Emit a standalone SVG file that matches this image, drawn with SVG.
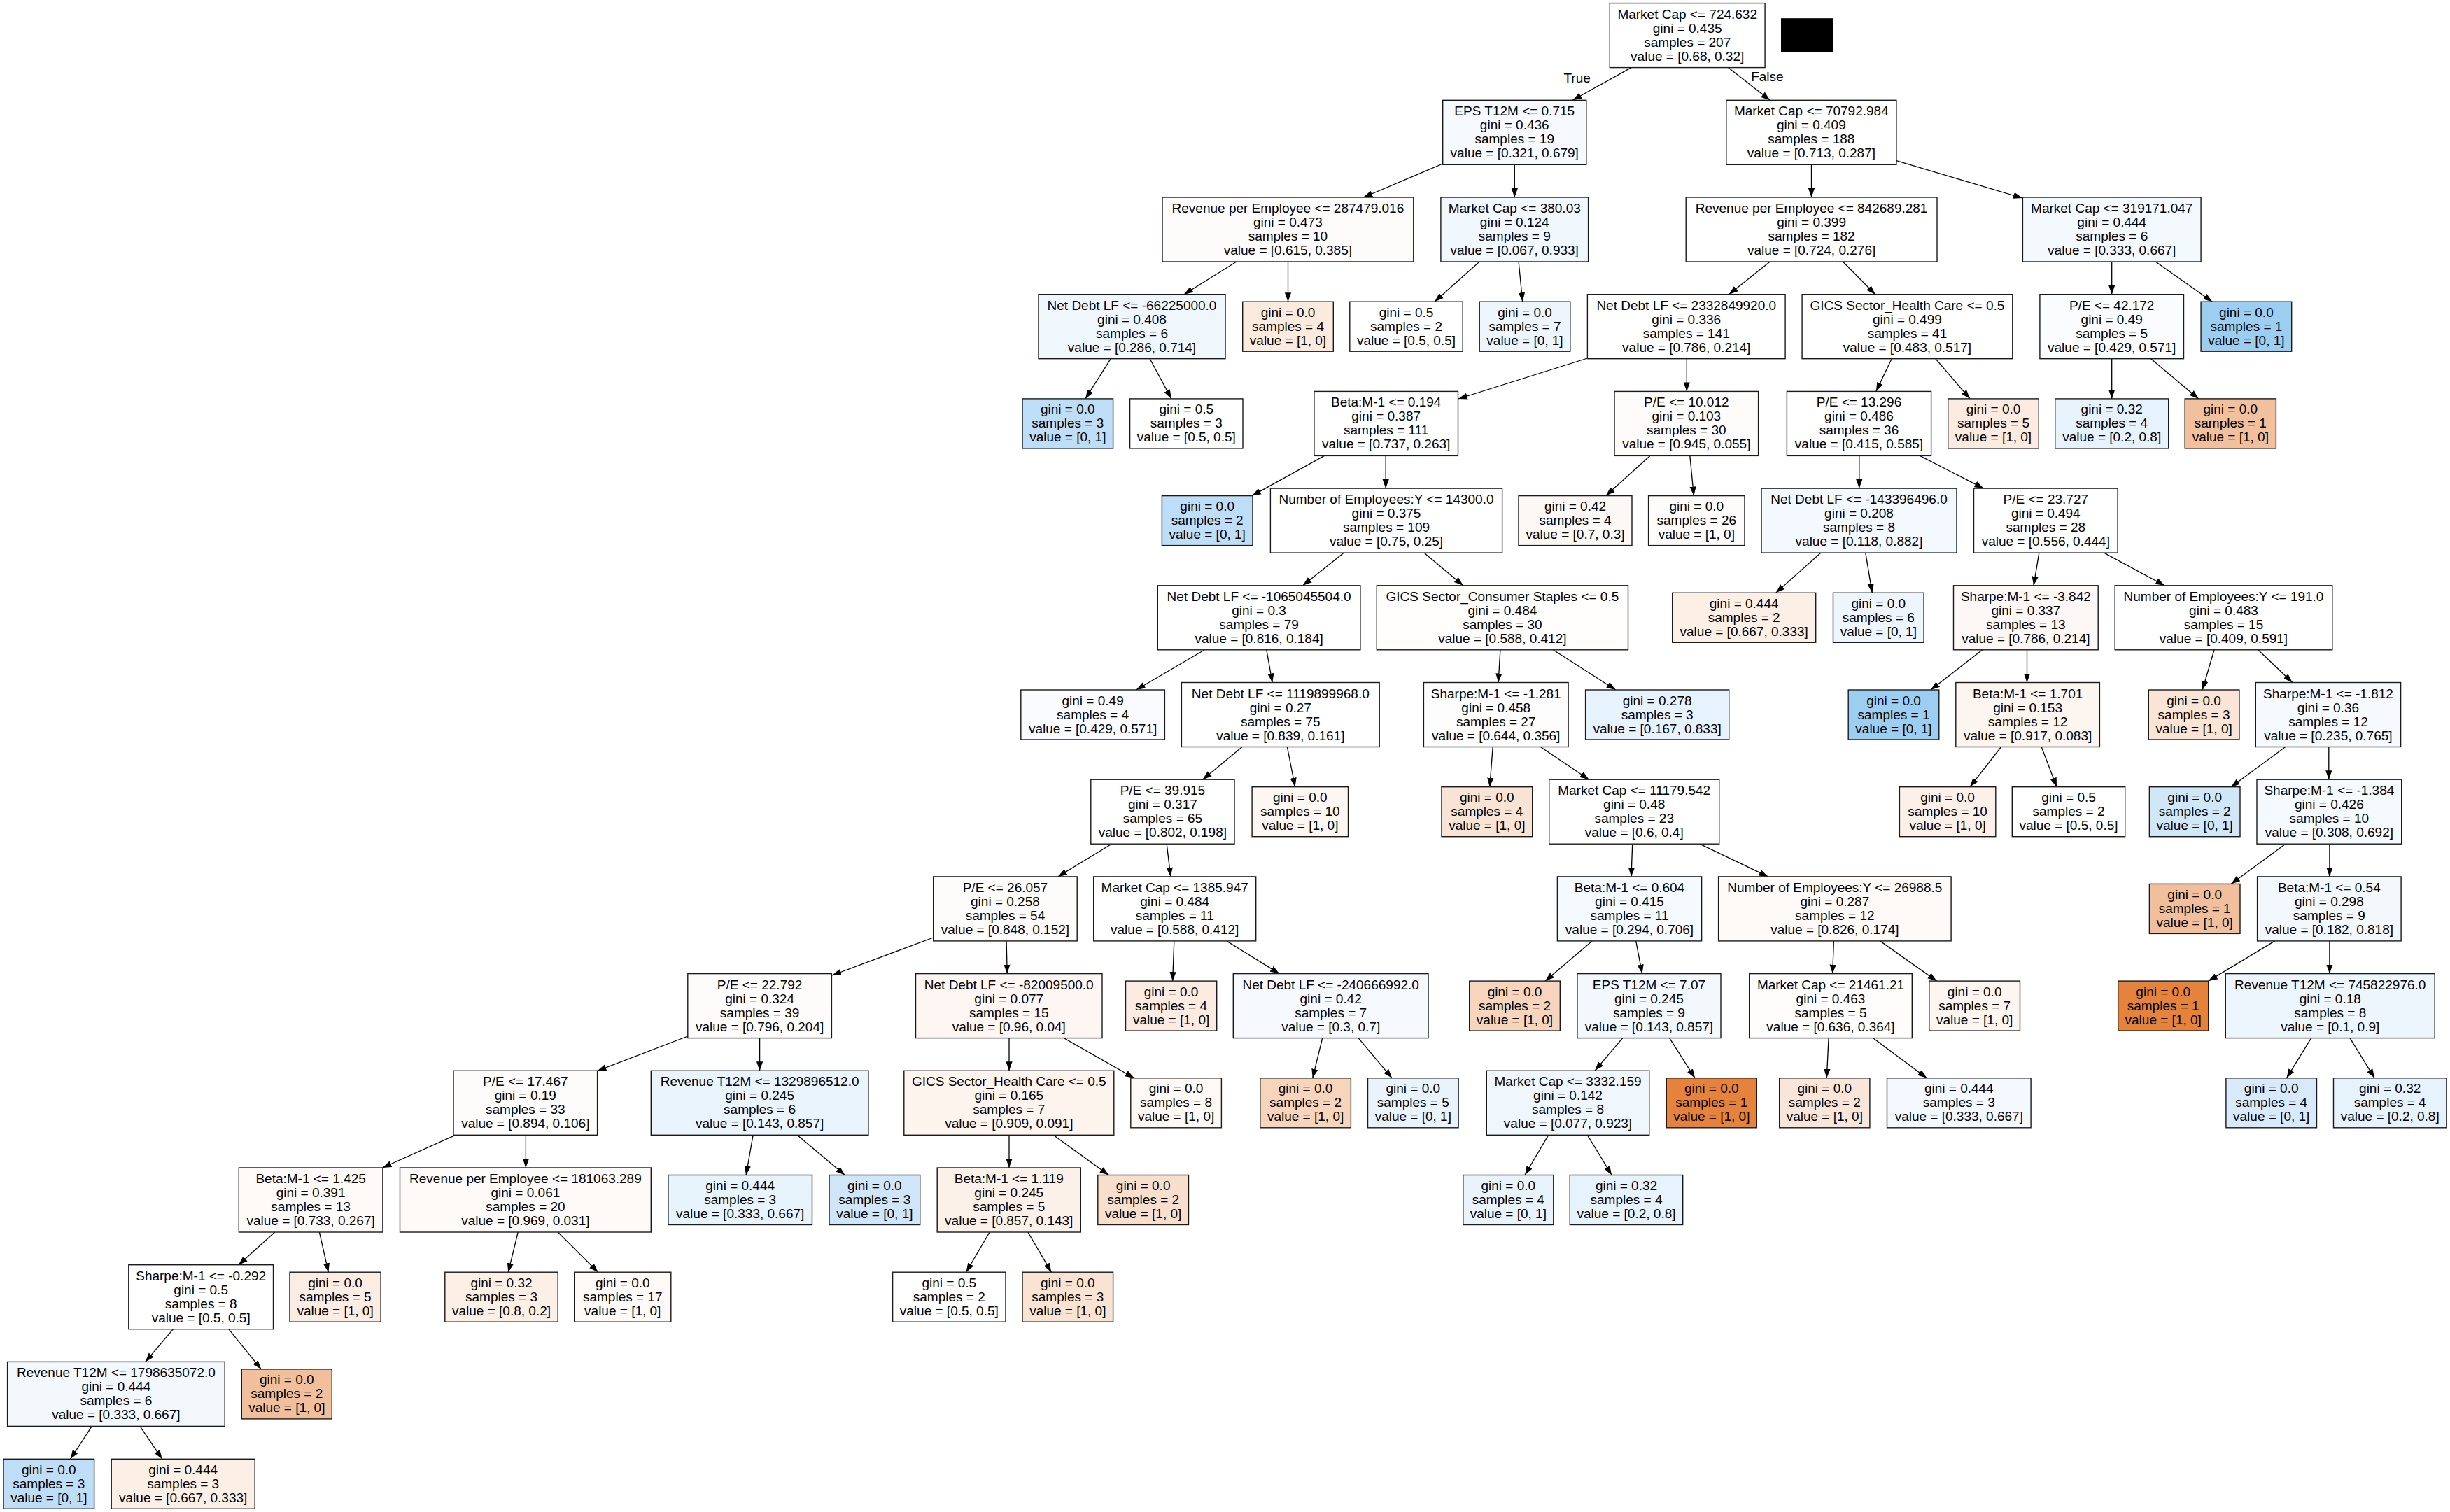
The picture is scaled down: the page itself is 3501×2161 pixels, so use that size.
<svg xmlns="http://www.w3.org/2000/svg" width="3501" height="2161" viewBox="0 0 3501 2161">
<defs>
<style>
rect.b{stroke:#1a1a1a;stroke-width:1.4}
text{font-family:"Liberation Sans",Arial,Helvetica,sans-serif;font-size:19px;fill:#000;text-anchor:middle}
#edges line{stroke:#000;stroke-width:1.3;fill:none;marker-end:url(#ah)}
</style>
<marker id="ah" markerUnits="userSpaceOnUse" markerWidth="14" markerHeight="10" refX="13" refY="5" orient="auto"><path d="M0,0.4 L13,5 L0,9.6 z" fill="#000"/></marker>
</defs>
<rect x="0" y="0" width="3501" height="2161" fill="#ffffff"/>
<g id="edges">
<line x1="2331" y1="96.6" x2="2247.2" y2="143.3"/>
<line x1="2469.5" y1="96.6" x2="2529.3" y2="143.3"/>
<line x1="2061.7" y1="234" x2="1948.3" y2="282"/>
<line x1="2164.3" y1="235.3" x2="2164.3" y2="282"/>
<line x1="2588.5" y1="235.3" x2="2588.5" y2="282"/>
<line x1="2709.9" y1="229.6" x2="2890" y2="283"/>
<line x1="1767" y1="374" x2="1692" y2="420.7"/>
<line x1="1840.5" y1="374" x2="1840.5" y2="431.2"/>
<line x1="2114.2" y1="374" x2="2050" y2="431.2"/>
<line x1="2170.1" y1="374" x2="2175.7" y2="431.2"/>
<line x1="2529.3" y1="374" x2="2470.7" y2="420.7"/>
<line x1="2633.4" y1="374" x2="2679.7" y2="420.7"/>
<line x1="3017.7" y1="374" x2="3017.7" y2="420.7"/>
<line x1="3080.3" y1="374" x2="3161.3" y2="431.2"/>
<line x1="1587.3" y1="512.7" x2="1551" y2="569.9"/>
<line x1="1643.1" y1="512.7" x2="1673.9" y2="569.9"/>
<line x1="2268.4" y1="512" x2="2084" y2="570"/>
<line x1="2410.3" y1="512.7" x2="2410.3" y2="559.4"/>
<line x1="2703.2" y1="512.7" x2="2680.9" y2="559.4"/>
<line x1="2765.8" y1="512.7" x2="2815" y2="569.9"/>
<line x1="3017.7" y1="512.7" x2="3017.7" y2="569.9"/>
<line x1="3073.6" y1="512.7" x2="3141.8" y2="569.9"/>
<line x1="1892.5" y1="651.4" x2="1789" y2="708.6"/>
<line x1="1980.2" y1="651.4" x2="1980.2" y2="698.1"/>
<line x1="2357.8" y1="651.4" x2="2294.7" y2="708.6"/>
<line x1="2414.8" y1="651.4" x2="2420.4" y2="708.6"/>
<line x1="2656.8" y1="651.4" x2="2656.8" y2="698.1"/>
<line x1="2743.4" y1="651.4" x2="2834.5" y2="698.1"/>
<line x1="1920.4" y1="790.1" x2="1861.7" y2="836.8"/>
<line x1="2034.9" y1="790.1" x2="2090.8" y2="836.8"/>
<line x1="2602" y1="790.1" x2="2537.7" y2="847.3"/>
<line x1="2665.8" y1="790.1" x2="2675.3" y2="847.3"/>
<line x1="2913.8" y1="790.1" x2="2906" y2="836.8"/>
<line x1="3006.6" y1="790.1" x2="3093.2" y2="836.8"/>
<line x1="1721.4" y1="928.8" x2="1623.6" y2="986"/>
<line x1="1809.8" y1="928.8" x2="1818.2" y2="975.5"/>
<line x1="2143.9" y1="928.8" x2="2141.1" y2="975.5"/>
<line x1="2219.3" y1="928.8" x2="2308.7" y2="986"/>
<line x1="2832.8" y1="928.8" x2="2759" y2="986"/>
<line x1="2896.5" y1="928.8" x2="2896.5" y2="975.5"/>
<line x1="3164.1" y1="928.8" x2="3147.3" y2="986"/>
<line x1="3226.7" y1="928.8" x2="3275.8" y2="975.5"/>
<line x1="1775" y1="1067.5" x2="1718.6" y2="1114.2"/>
<line x1="1839.4" y1="1067.5" x2="1850.6" y2="1124.7"/>
<line x1="2133.2" y1="1067.5" x2="2128.8" y2="1124.7"/>
<line x1="2201.4" y1="1067.5" x2="2270.7" y2="1114.2"/>
<line x1="2859.6" y1="1067.5" x2="2815" y2="1124.7"/>
<line x1="2917.2" y1="1067.5" x2="2939" y2="1124.7"/>
<line x1="3265.8" y1="1067.5" x2="3188.1" y2="1124.7"/>
<line x1="3327.8" y1="1067.5" x2="3327.8" y2="1114.2"/>
<line x1="1588.4" y1="1206.2" x2="1511.9" y2="1252.9"/>
<line x1="1667.2" y1="1206.2" x2="1672.8" y2="1252.9"/>
<line x1="2332.7" y1="1206.2" x2="2331" y2="1252.9"/>
<line x1="2428.8" y1="1206.2" x2="2526.5" y2="1252.9"/>
<line x1="3265.8" y1="1206.2" x2="3188.1" y2="1263.4"/>
<line x1="3328.9" y1="1206.2" x2="3328.9" y2="1252.9"/>
<line x1="1333.7" y1="1340" x2="1189" y2="1394"/>
<line x1="1438.1" y1="1344.9" x2="1439.2" y2="1391.6"/>
<line x1="1677.8" y1="1344.9" x2="1675.6" y2="1402.1"/>
<line x1="1752.8" y1="1344.9" x2="1828.2" y2="1391.6"/>
<line x1="2275.1" y1="1344.9" x2="2208.1" y2="1402.1"/>
<line x1="2337.7" y1="1344.9" x2="2346.6" y2="1391.6"/>
<line x1="2620.4" y1="1344.9" x2="2618.7" y2="1391.6"/>
<line x1="2686.5" y1="1344.9" x2="2767.5" y2="1402.1"/>
<line x1="3250.7" y1="1344.9" x2="3155.7" y2="1402.1"/>
<line x1="3328.9" y1="1344.9" x2="3328.9" y2="1391.6"/>
<line x1="982.8" y1="1481" x2="853.5" y2="1530.5"/>
<line x1="1085.6" y1="1483.6" x2="1085.6" y2="1530.3"/>
<line x1="1442" y1="1483.6" x2="1442" y2="1530.3"/>
<line x1="1520.3" y1="1483.6" x2="1620.8" y2="1540.8"/>
<line x1="1889.7" y1="1483.6" x2="1875.7" y2="1540.8"/>
<line x1="1941.1" y1="1483.6" x2="1989.1" y2="1540.8"/>
<line x1="2318.7" y1="1483.6" x2="2279" y2="1530.3"/>
<line x1="2385.7" y1="1483.6" x2="2422" y2="1540.8"/>
<line x1="2613.1" y1="1483.6" x2="2610.3" y2="1540.8"/>
<line x1="2676.4" y1="1483.6" x2="2753.5" y2="1540.8"/>
<line x1="3302.7" y1="1483.6" x2="3267.5" y2="1540.8"/>
<line x1="3358" y1="1483.6" x2="3393.2" y2="1540.8"/>
<line x1="650.8" y1="1622.3" x2="546.6" y2="1669"/>
<line x1="751.4" y1="1622.3" x2="751.4" y2="1669"/>
<line x1="1076.1" y1="1622.3" x2="1066.1" y2="1679.5"/>
<line x1="1139.2" y1="1622.3" x2="1207.4" y2="1679.5"/>
<line x1="1442" y1="1622.3" x2="1442" y2="1669"/>
<line x1="1505.2" y1="1622.3" x2="1584.5" y2="1679.5"/>
<line x1="2212.6" y1="1622.3" x2="2179" y2="1679.5"/>
<line x1="2268.4" y1="1622.3" x2="2303.1" y2="1679.5"/>
<line x1="392.7" y1="1761" x2="340.8" y2="1807.7"/>
<line x1="456.4" y1="1761" x2="469.3" y2="1818.2"/>
<line x1="740.2" y1="1761" x2="726.3" y2="1818.2"/>
<line x1="797.2" y1="1761" x2="854.7" y2="1818.2"/>
<line x1="1414.1" y1="1761" x2="1380.6" y2="1818.2"/>
<line x1="1468.9" y1="1761" x2="1502.4" y2="1818.2"/>
<line x1="247.5" y1="1899.7" x2="207.8" y2="1946.4"/>
<line x1="326.8" y1="1899.7" x2="373.2" y2="1956.9"/>
<line x1="131.3" y1="2038.4" x2="100.6" y2="2085.3"/>
<line x1="200" y1="2038.4" x2="231.8" y2="2085.3"/>
</g>
<g id="edge-labels">
<text x="2253.6" y="118">True</text>
<text x="2525.4" y="115.7">False</text>
</g>
<rect id="redaction" x="2545" y="26.2" width="74" height="48.6" fill="#000000"/>

<g id="n0"><rect class="b" x="2300.3" y="4.6" width="221.8" height="92" fill="#ffffff"/><text x="2411.2" y="26.6">Market Cap &lt;= 724.632<tspan x="2411.2" dy="20">gini = 0.435</tspan><tspan x="2411.2" dy="20">samples = 207</tspan><tspan x="2411.2" dy="20">value = [0.68, 0.32]</tspan></text></g>
<g id="n1"><rect class="b" x="2061.7" y="143.3" width="205.1" height="92" fill="#f6fafe"/><text x="2164.25" y="165.3">EPS T12M &lt;= 0.715<tspan x="2164.25" dy="20">gini = 0.436</tspan><tspan x="2164.25" dy="20">samples = 19</tspan><tspan x="2164.25" dy="20">value = [0.321, 0.679]</tspan></text></g>
<g id="n2"><rect class="b" x="2466.8" y="143.3" width="243.1" height="92" fill="#ffffff"/><text x="2588.35" y="165.3">Market Cap &lt;= 70792.984<tspan x="2588.35" dy="20">gini = 0.409</tspan><tspan x="2588.35" dy="20">samples = 188</tspan><tspan x="2588.35" dy="20">value = [0.713, 0.287]</tspan></text></g>
<g id="n3"><rect class="b" x="1661" y="282" width="358.8" height="92" fill="#fefcfb"/><text x="1840.4" y="304">Revenue per Employee &lt;= 287479.016<tspan x="1840.4" dy="20">gini = 0.473</tspan><tspan x="1840.4" dy="20">samples = 10</tspan><tspan x="1840.4" dy="20">value = [0.615, 0.385]</tspan></text></g>
<g id="n4"><rect class="b" x="2058.9" y="282" width="210.7" height="92" fill="#f0f7fd"/><text x="2164.25" y="304">Market Cap &lt;= 380.03<tspan x="2164.25" dy="20">gini = 0.124</tspan><tspan x="2164.25" dy="20">samples = 9</tspan><tspan x="2164.25" dy="20">value = [0.067, 0.933]</tspan></text></g>
<g id="n5"><rect class="b" x="2409.2" y="282" width="358.8" height="92" fill="#ffffff"/><text x="2588.6" y="304">Revenue per Employee &lt;= 842689.281<tspan x="2588.6" dy="20">gini = 0.399</tspan><tspan x="2588.6" dy="20">samples = 182</tspan><tspan x="2588.6" dy="20">value = [0.724, 0.276]</tspan></text></g>
<g id="n6"><rect class="b" x="2890.4" y="282" width="254.7" height="92" fill="#f4f9fe"/><text x="3017.75" y="304">Market Cap &lt;= 319171.047<tspan x="3017.75" dy="20">gini = 0.444</tspan><tspan x="3017.75" dy="20">samples = 6</tspan><tspan x="3017.75" dy="20">value = [0.333, 0.667]</tspan></text></g>

<g id="n7"><rect class="b" x="1484" y="420.7" width="267" height="92" fill="#f0f7fc"/><text x="1617.5" y="442.7">Net Debt LF &lt;= -66225000.0<tspan x="1617.5" dy="20">gini = 0.408</tspan><tspan x="1617.5" dy="20">samples = 6</tspan><tspan x="1617.5" dy="20">value = [0.286, 0.714]</tspan></text></g>
<g id="n8"><rect class="b" x="1775.7" y="431.2" width="129.6" height="71" fill="#fbeade"/><text x="1840.5" y="452.7">gini = 0.0<tspan x="1840.5" dy="20">samples = 4</tspan><tspan x="1840.5" dy="20">value = [1, 0]</tspan></text></g>
<g id="n9"><rect class="b" x="1928.8" y="431.2" width="161.4" height="71" fill="#ffffff"/><text x="2009.5" y="452.7">gini = 0.5<tspan x="2009.5" dy="20">samples = 2</tspan><tspan x="2009.5" dy="20">value = [0.5, 0.5]</tspan></text></g>
<g id="n10"><rect class="b" x="2114.2" y="431.2" width="129.6" height="71" fill="#eef6fd"/><text x="2179" y="452.7">gini = 0.0<tspan x="2179" dy="20">samples = 7</tspan><tspan x="2179" dy="20">value = [0, 1]</tspan></text></g>
<g id="n11"><rect class="b" x="2268.4" y="420.7" width="282.7" height="92" fill="#ffffff"/><text x="2409.75" y="442.7">Net Debt LF &lt;= 2332849920.0<tspan x="2409.75" dy="20">gini = 0.336</tspan><tspan x="2409.75" dy="20">samples = 141</tspan><tspan x="2409.75" dy="20">value = [0.786, 0.214]</tspan></text></g>
<g id="n12"><rect class="b" x="2575.1" y="420.7" width="300.7" height="92" fill="#ffffff"/><text x="2725.45" y="442.7">GICS Sector_Health Care &lt;= 0.5<tspan x="2725.45" dy="20">gini = 0.499</tspan><tspan x="2725.45" dy="20">samples = 41</tspan><tspan x="2725.45" dy="20">value = [0.483, 0.517]</tspan></text></g>
<g id="n13"><rect class="b" x="2914.9" y="420.7" width="205.6" height="92" fill="#fafcfe"/><text x="3017.7" y="442.7">P/E &lt;= 42.172<tspan x="3017.7" dy="20">gini = 0.49</tspan><tspan x="3017.7" dy="20">samples = 5</tspan><tspan x="3017.7" dy="20">value = [0.429, 0.571]</tspan></text></g>
<g id="n14"><rect class="b" x="3145.1" y="431.2" width="129.6" height="71" fill="#9ccef2"/><text x="3209.9" y="452.7">gini = 0.0<tspan x="3209.9" dy="20">samples = 1</tspan><tspan x="3209.9" dy="20">value = [0, 1]</tspan></text></g>

<g id="n15"><rect class="b" x="1461" y="569.9" width="129.6" height="71" fill="#bddef6"/><text x="1525.8" y="591.4">gini = 0.0<tspan x="1525.8" dy="20">samples = 3</tspan><tspan x="1525.8" dy="20">value = [0, 1]</tspan></text></g>
<g id="n16"><rect class="b" x="1614.6" y="569.9" width="161.4" height="71" fill="#ffffff"/><text x="1695.3" y="591.4">gini = 0.5<tspan x="1695.3" dy="20">samples = 3</tspan><tspan x="1695.3" dy="20">value = [0.5, 0.5]</tspan></text></g>
<g id="n17"><rect class="b" x="1877.9" y="559.4" width="205.6" height="92" fill="#ffffff"/><text x="1980.7" y="581.4">Beta:M-1 &lt;= 0.194<tspan x="1980.7" dy="20">gini = 0.387</tspan><tspan x="1980.7" dy="20">samples = 111</tspan><tspan x="1980.7" dy="20">value = [0.737, 0.263]</tspan></text></g>
<g id="n18"><rect class="b" x="2307" y="559.4" width="205.6" height="92" fill="#fefcfb"/><text x="2409.8" y="581.4">P/E &lt;= 10.012<tspan x="2409.8" dy="20">gini = 0.103</tspan><tspan x="2409.8" dy="20">samples = 30</tspan><tspan x="2409.8" dy="20">value = [0.945, 0.055]</tspan></text></g>
<g id="n19"><rect class="b" x="2553.4" y="559.4" width="206.2" height="92" fill="#ffffff"/><text x="2656.5" y="581.4">P/E &lt;= 13.296<tspan x="2656.5" dy="20">gini = 0.486</tspan><tspan x="2656.5" dy="20">samples = 36</tspan><tspan x="2656.5" dy="20">value = [0.415, 0.585]</tspan></text></g>
<g id="n20"><rect class="b" x="2783.7" y="569.9" width="129.6" height="71" fill="#fcebe0"/><text x="2848.5" y="591.4">gini = 0.0<tspan x="2848.5" dy="20">samples = 5</tspan><tspan x="2848.5" dy="20">value = [1, 0]</tspan></text></g>
<g id="n21"><rect class="b" x="2936.7" y="569.9" width="162" height="71" fill="#e6f2fc"/><text x="3017.7" y="591.4">gini = 0.32<tspan x="3017.7" dy="20">samples = 4</tspan><tspan x="3017.7" dy="20">value = [0.2, 0.8]</tspan></text></g>
<g id="n22"><rect class="b" x="3122.2" y="569.9" width="130.2" height="71" fill="#f2c09c"/><text x="3187.3" y="591.4">gini = 0.0<tspan x="3187.3" dy="20">samples = 1</tspan><tspan x="3187.3" dy="20">value = [1, 0]</tspan></text></g>

<g id="n23"><rect class="b" x="1660.4" y="708.6" width="129.6" height="71" fill="#bddef6"/><text x="1725.2" y="730.1">gini = 0.0<tspan x="1725.2" dy="20">samples = 2</tspan><tspan x="1725.2" dy="20">value = [0, 1]</tspan></text></g>
<g id="n24"><rect class="b" x="1815.4" y="698.1" width="331.2" height="92" fill="#ffffff"/><text x="1981" y="720.1">Number of Employees:Y &lt;= 14300.0<tspan x="1981" dy="20">gini = 0.375</tspan><tspan x="1981" dy="20">samples = 109</tspan><tspan x="1981" dy="20">value = [0.75, 0.25]</tspan></text></g>
<g id="n25"><rect class="b" x="2170" y="708.6" width="162" height="71" fill="#fdf8f4"/><text x="2251" y="730.1">gini = 0.42<tspan x="2251" dy="20">samples = 4</tspan><tspan x="2251" dy="20">value = [0.7, 0.3]</tspan></text></g>
<g id="n26"><rect class="b" x="2355.6" y="708.6" width="137.4" height="71" fill="#fefcfb"/><text x="2424.3" y="730.1">gini = 0.0<tspan x="2424.3" dy="20">samples = 26</tspan><tspan x="2424.3" dy="20">value = [1, 0]</tspan></text></g>
<g id="n27"><rect class="b" x="2517" y="698.1" width="279" height="92" fill="#f3f9fe"/><text x="2656.5" y="720.1">Net Debt LF &lt;= -143396496.0<tspan x="2656.5" dy="20">gini = 0.208</tspan><tspan x="2656.5" dy="20">samples = 8</tspan><tspan x="2656.5" dy="20">value = [0.118, 0.882]</tspan></text></g>
<g id="n28"><rect class="b" x="2820.5" y="698.1" width="205.6" height="92" fill="#ffffff"/><text x="2923.3" y="720.1">P/E &lt;= 23.727<tspan x="2923.3" dy="20">gini = 0.494</tspan><tspan x="2923.3" dy="20">samples = 28</tspan><tspan x="2923.3" dy="20">value = [0.556, 0.444]</tspan></text></g>

<g id="n29"><rect class="b" x="1654.3" y="836.8" width="289.6" height="92" fill="#ffffff"/><text x="1799.1" y="858.8">Net Debt LF &lt;= -1065045504.0<tspan x="1799.1" dy="20">gini = 0.3</tspan><tspan x="1799.1" dy="20">samples = 79</tspan><tspan x="1799.1" dy="20">value = [0.816, 0.184]</tspan></text></g>
<g id="n30"><rect class="b" x="1967.3" y="836.8" width="359.2" height="92" fill="#fffefd"/><text x="2146.9" y="858.8">GICS Sector_Consumer Staples &lt;= 0.5<tspan x="2146.9" dy="20">gini = 0.484</tspan><tspan x="2146.9" dy="20">samples = 30</tspan><tspan x="2146.9" dy="20">value = [0.588, 0.412]</tspan></text></g>
<g id="n31"><rect class="b" x="2389.7" y="847.3" width="205" height="71" fill="#fcefe6"/><text x="2492.2" y="868.8">gini = 0.444<tspan x="2492.2" dy="20">samples = 2</tspan><tspan x="2492.2" dy="20">value = [0.667, 0.333]</tspan></text></g>
<g id="n32"><rect class="b" x="2619.5" y="847.3" width="129.6" height="71" fill="#eef6fd"/><text x="2684.3" y="868.8">gini = 0.0<tspan x="2684.3" dy="20">samples = 6</tspan><tspan x="2684.3" dy="20">value = [0, 1]</tspan></text></g>
<g id="n33"><rect class="b" x="2791.5" y="836.8" width="206.7" height="92" fill="#fdf8f5"/><text x="2894.85" y="858.8">Sharpe:M-1 &lt;= -3.842<tspan x="2894.85" dy="20">gini = 0.337</tspan><tspan x="2894.85" dy="20">samples = 13</tspan><tspan x="2894.85" dy="20">value = [0.786, 0.214]</tspan></text></g>
<g id="n34"><rect class="b" x="3022.2" y="836.8" width="310.6" height="92" fill="#ffffff"/><text x="3177.5" y="858.8">Number of Employees:Y &lt;= 191.0<tspan x="3177.5" dy="20">gini = 0.483</tspan><tspan x="3177.5" dy="20">samples = 15</tspan><tspan x="3177.5" dy="20">value = [0.409, 0.591]</tspan></text></g>

<g id="n35"><rect class="b" x="1458.8" y="986" width="205.6" height="71" fill="#f9fbfe"/><text x="1561.6" y="1007.5">gini = 0.49<tspan x="1561.6" dy="20">samples = 4</tspan><tspan x="1561.6" dy="20">value = [0.429, 0.571]</tspan></text></g>
<g id="n36"><rect class="b" x="1688.4" y="975.5" width="282.8" height="92" fill="#ffffff"/><text x="1829.8" y="997.5">Net Debt LF &lt;= 1119899968.0<tspan x="1829.8" dy="20">gini = 0.27</tspan><tspan x="1829.8" dy="20">samples = 75</tspan><tspan x="1829.8" dy="20">value = [0.839, 0.161]</tspan></text></g>
<g id="n37"><rect class="b" x="2034.4" y="975.5" width="206.7" height="92" fill="#fefdfd"/><text x="2137.75" y="997.5">Sharpe:M-1 &lt;= -1.281<tspan x="2137.75" dy="20">gini = 0.458</tspan><tspan x="2137.75" dy="20">samples = 27</tspan><tspan x="2137.75" dy="20">value = [0.644, 0.356]</tspan></text></g>
<g id="n38"><rect class="b" x="2265.6" y="986" width="205.1" height="71" fill="#e6f2fc"/><text x="2368.15" y="1007.5">gini = 0.278<tspan x="2368.15" dy="20">samples = 3</tspan><tspan x="2368.15" dy="20">value = [0.167, 0.833]</tspan></text></g>
<g id="n39"><rect class="b" x="2641.2" y="986" width="129.6" height="71" fill="#9ccef2"/><text x="2706" y="1007.5">gini = 0.0<tspan x="2706" dy="20">samples = 1</tspan><tspan x="2706" dy="20">value = [0, 1]</tspan></text></g>
<g id="n40"><rect class="b" x="2794.8" y="975.5" width="205.6" height="92" fill="#fdf5f0"/><text x="2897.6" y="997.5">Beta:M-1 &lt;= 1.701<tspan x="2897.6" dy="20">gini = 0.153</tspan><tspan x="2897.6" dy="20">samples = 12</tspan><tspan x="2897.6" dy="20">value = [0.917, 0.083]</tspan></text></g>
<g id="n41"><rect class="b" x="3070.3" y="986" width="129.6" height="71" fill="#f9e4d5"/><text x="3135.1" y="1007.5">gini = 0.0<tspan x="3135.1" dy="20">samples = 3</tspan><tspan x="3135.1" dy="20">value = [1, 0]</tspan></text></g>
<g id="n42"><rect class="b" x="3223.3" y="975.5" width="207.3" height="92" fill="#f6fafe"/><text x="3326.95" y="997.5">Sharpe:M-1 &lt;= -1.812<tspan x="3326.95" dy="20">gini = 0.36</tspan><tspan x="3326.95" dy="20">samples = 12</tspan><tspan x="3326.95" dy="20">value = [0.235, 0.765]</tspan></text></g>

<g id="n43"><rect class="b" x="1558.8" y="1114.2" width="205.2" height="92" fill="#ffffff"/><text x="1661.4" y="1136.2">P/E &lt;= 39.915<tspan x="1661.4" dy="20">gini = 0.317</tspan><tspan x="1661.4" dy="20">samples = 65</tspan><tspan x="1661.4" dy="20">value = [0.802, 0.198]</tspan></text></g>
<g id="n44"><rect class="b" x="1789.1" y="1124.7" width="137.4" height="71" fill="#fdf7f3"/><text x="1857.8" y="1146.2">gini = 0.0<tspan x="1857.8" dy="20">samples = 10</tspan><tspan x="1857.8" dy="20">value = [1, 0]</tspan></text></g>
<g id="n45"><rect class="b" x="2060" y="1124.7" width="129.7" height="71" fill="#f8e4d4"/><text x="2124.85" y="1146.2">gini = 0.0<tspan x="2124.85" dy="20">samples = 4</tspan><tspan x="2124.85" dy="20">value = [1, 0]</tspan></text></g>
<g id="n46"><rect class="b" x="2213.7" y="1114.2" width="243" height="92" fill="#ffffff"/><text x="2335.2" y="1136.2">Market Cap &lt;= 11179.542<tspan x="2335.2" dy="20">gini = 0.48</tspan><tspan x="2335.2" dy="20">samples = 23</tspan><tspan x="2335.2" dy="20">value = [0.6, 0.4]</tspan></text></g>
<g id="n47"><rect class="b" x="2714.4" y="1124.7" width="137.4" height="71" fill="#fcf0e8"/><text x="2783.1" y="1146.2">gini = 0.0<tspan x="2783.1" dy="20">samples = 10</tspan><tspan x="2783.1" dy="20">value = [1, 0]</tspan></text></g>
<g id="n48"><rect class="b" x="2875.3" y="1124.7" width="161.4" height="71" fill="#ffffff"/><text x="2956" y="1146.2">gini = 0.5<tspan x="2956" dy="20">samples = 2</tspan><tspan x="2956" dy="20">value = [0.5, 0.5]</tspan></text></g>
<g id="n49"><rect class="b" x="3071.4" y="1124.7" width="129.6" height="71" fill="#d0e7f8"/><text x="3136.2" y="1146.2">gini = 0.0<tspan x="3136.2" dy="20">samples = 2</tspan><tspan x="3136.2" dy="20">value = [0, 1]</tspan></text></g>
<g id="n50"><rect class="b" x="3225" y="1114.2" width="206.7" height="92" fill="#f5fafe"/><text x="3328.35" y="1136.2">Sharpe:M-1 &lt;= -1.384<tspan x="3328.35" dy="20">gini = 0.426</tspan><tspan x="3328.35" dy="20">samples = 10</tspan><tspan x="3328.35" dy="20">value = [0.308, 0.692]</tspan></text></g>

<g id="n51"><rect class="b" x="1333.7" y="1252.9" width="205.5" height="92" fill="#fefcfb"/><text x="1436.45" y="1274.9">P/E &lt;= 26.057<tspan x="1436.45" dy="20">gini = 0.258</tspan><tspan x="1436.45" dy="20">samples = 54</tspan><tspan x="1436.45" dy="20">value = [0.848, 0.152]</tspan></text></g>
<g id="n52"><rect class="b" x="1562.7" y="1252.9" width="232" height="92" fill="#ffffff"/><text x="1678.7" y="1274.9">Market Cap &lt;= 1385.947<tspan x="1678.7" dy="20">gini = 0.484</tspan><tspan x="1678.7" dy="20">samples = 11</tspan><tspan x="1678.7" dy="20">value = [0.588, 0.412]</tspan></text></g>
<g id="n53"><rect class="b" x="2225.4" y="1252.9" width="206.2" height="92" fill="#f5fafe"/><text x="2328.5" y="1274.9">Beta:M-1 &lt;= 0.604<tspan x="2328.5" dy="20">gini = 0.415</tspan><tspan x="2328.5" dy="20">samples = 11</tspan><tspan x="2328.5" dy="20">value = [0.294, 0.706]</tspan></text></g>
<g id="n54"><rect class="b" x="2455.6" y="1252.9" width="332.5" height="92" fill="#fefaf8"/><text x="2621.85" y="1274.9">Number of Employees:Y &lt;= 26988.5<tspan x="2621.85" dy="20">gini = 0.287</tspan><tspan x="2621.85" dy="20">samples = 12</tspan><tspan x="2621.85" dy="20">value = [0.826, 0.174]</tspan></text></g>
<g id="n55"><rect class="b" x="3071.4" y="1263.4" width="129.6" height="71" fill="#f1bf9b"/><text x="3136.2" y="1284.9">gini = 0.0<tspan x="3136.2" dy="20">samples = 1</tspan><tspan x="3136.2" dy="20">value = [1, 0]</tspan></text></g>
<g id="n56"><rect class="b" x="3225.6" y="1252.9" width="205.5" height="92" fill="#f3f8fd"/><text x="3328.35" y="1274.9">Beta:M-1 &lt;= 0.54<tspan x="3328.35" dy="20">gini = 0.298</tspan><tspan x="3328.35" dy="20">samples = 9</tspan><tspan x="3328.35" dy="20">value = [0.182, 0.818]</tspan></text></g>

<g id="n57"><rect class="b" x="982.8" y="1391.6" width="205.6" height="92" fill="#fefcfa"/><text x="1085.6" y="1413.6">P/E &lt;= 22.792<tspan x="1085.6" dy="20">gini = 0.324</tspan><tspan x="1085.6" dy="20">samples = 39</tspan><tspan x="1085.6" dy="20">value = [0.796, 0.204]</tspan></text></g>
<g id="n58"><rect class="b" x="1308.5" y="1391.6" width="266.5" height="92" fill="#fdf6f2"/><text x="1441.75" y="1413.6">Net Debt LF &lt;= -82009500.0<tspan x="1441.75" dy="20">gini = 0.077</tspan><tspan x="1441.75" dy="20">samples = 15</tspan><tspan x="1441.75" dy="20">value = [0.96, 0.04]</tspan></text></g>
<g id="n59"><rect class="b" x="1608.5" y="1402.1" width="130.2" height="71" fill="#fbebe1"/><text x="1673.6" y="1423.6">gini = 0.0<tspan x="1673.6" dy="20">samples = 4</tspan><tspan x="1673.6" dy="20">value = [1, 0]</tspan></text></g>
<g id="n60"><rect class="b" x="1762.3" y="1391.6" width="278.7" height="92" fill="#f6fafe"/><text x="1901.65" y="1413.6">Net Debt LF &lt;= -240666992.0<tspan x="1901.65" dy="20">gini = 0.42</tspan><tspan x="1901.65" dy="20">samples = 7</tspan><tspan x="1901.65" dy="20">value = [0.3, 0.7]</tspan></text></g>
<g id="n61"><rect class="b" x="2099.7" y="1402.1" width="129.6" height="71" fill="#f6d5bc"/><text x="2164.5" y="1423.6">gini = 0.0<tspan x="2164.5" dy="20">samples = 2</tspan><tspan x="2164.5" dy="20">value = [1, 0]</tspan></text></g>
<g id="n62"><rect class="b" x="2253.9" y="1391.6" width="205.1" height="92" fill="#f3f8fd"/><text x="2356.45" y="1413.6">EPS T12M &lt;= 7.07<tspan x="2356.45" dy="20">gini = 0.245</tspan><tspan x="2356.45" dy="20">samples = 9</tspan><tspan x="2356.45" dy="20">value = [0.143, 0.857]</tspan></text></g>
<g id="n63"><rect class="b" x="2499.7" y="1391.6" width="232.6" height="92" fill="#fefdfb"/><text x="2616" y="1413.6">Market Cap &lt;= 21461.21<tspan x="2616" dy="20">gini = 0.463</tspan><tspan x="2616" dy="20">samples = 5</tspan><tspan x="2616" dy="20">value = [0.636, 0.364]</tspan></text></g>
<g id="n64"><rect class="b" x="2756.8" y="1402.1" width="129.7" height="71" fill="#fdf5f0"/><text x="2821.65" y="1423.6">gini = 0.0<tspan x="2821.65" dy="20">samples = 7</tspan><tspan x="2821.65" dy="20">value = [1, 0]</tspan></text></g>
<g id="n65"><rect class="b" x="3026.7" y="1402.1" width="129" height="71" fill="#e5823b"/><text x="3091.2" y="1423.6">gini = 0.0<tspan x="3091.2" dy="20">samples = 1</tspan><tspan x="3091.2" dy="20">value = [1, 0]</tspan></text></g>
<g id="n66"><rect class="b" x="3180.3" y="1391.6" width="298.9" height="92" fill="#eef6fd"/><text x="3329.75" y="1413.6">Revenue T12M &lt;= 745822976.0<tspan x="3329.75" dy="20">gini = 0.18</tspan><tspan x="3329.75" dy="20">samples = 8</tspan><tspan x="3329.75" dy="20">value = [0.1, 0.9]</tspan></text></g>

<g id="n67"><rect class="b" x="648" y="1530.3" width="205.6" height="92" fill="#fefcfa"/><text x="750.8" y="1552.3">P/E &lt;= 17.467<tspan x="750.8" dy="20">gini = 0.19</tspan><tspan x="750.8" dy="20">samples = 33</tspan><tspan x="750.8" dy="20">value = [0.894, 0.106]</tspan></text></g>
<g id="n68"><rect class="b" x="930.3" y="1530.3" width="310.6" height="92" fill="#e9f4fc"/><text x="1085.6" y="1552.3">Revenue T12M &lt;= 1329896512.0<tspan x="1085.6" dy="20">gini = 0.245</tspan><tspan x="1085.6" dy="20">samples = 6</tspan><tspan x="1085.6" dy="20">value = [0.143, 0.857]</tspan></text></g>
<g id="n69"><rect class="b" x="1291.8" y="1530.3" width="300" height="92" fill="#fdf4ee"/><text x="1441.8" y="1552.3">GICS Sector_Health Care &lt;= 0.5<tspan x="1441.8" dy="20">gini = 0.165</tspan><tspan x="1441.8" dy="20">samples = 7</tspan><tspan x="1441.8" dy="20">value = [0.909, 0.091]</tspan></text></g>
<g id="n70"><rect class="b" x="1615.8" y="1540.8" width="129.6" height="71" fill="#fef9f5"/><text x="1680.6" y="1562.3">gini = 0.0<tspan x="1680.6" dy="20">samples = 8</tspan><tspan x="1680.6" dy="20">value = [1, 0]</tspan></text></g>
<g id="n71"><rect class="b" x="1800.8" y="1540.8" width="129.6" height="71" fill="#f6d5bc"/><text x="1865.6" y="1562.3">gini = 0.0<tspan x="1865.6" dy="20">samples = 2</tspan><tspan x="1865.6" dy="20">value = [1, 0]</tspan></text></g>
<g id="n72"><rect class="b" x="1954.5" y="1540.8" width="129.6" height="71" fill="#e8f3fc"/><text x="2019.3" y="1562.3">gini = 0.0<tspan x="2019.3" dy="20">samples = 5</tspan><tspan x="2019.3" dy="20">value = [0, 1]</tspan></text></g>
<g id="n73"><rect class="b" x="2124.3" y="1530.3" width="232.4" height="92" fill="#eff7fd"/><text x="2240.5" y="1552.3">Market Cap &lt;= 3332.159<tspan x="2240.5" dy="20">gini = 0.142</tspan><tspan x="2240.5" dy="20">samples = 8</tspan><tspan x="2240.5" dy="20">value = [0.077, 0.923]</tspan></text></g>
<g id="n74"><rect class="b" x="2381.3" y="1540.8" width="129" height="71" fill="#e5823b"/><text x="2445.8" y="1562.3">gini = 0.0<tspan x="2445.8" dy="20">samples = 1</tspan><tspan x="2445.8" dy="20">value = [1, 0]</tspan></text></g>
<g id="n75"><rect class="b" x="2542.7" y="1540.8" width="129.2" height="71" fill="#fae6d8"/><text x="2607.3" y="1562.3">gini = 0.0<tspan x="2607.3" dy="20">samples = 2</tspan><tspan x="2607.3" dy="20">value = [1, 0]</tspan></text></g>
<g id="n76"><rect class="b" x="2696.5" y="1540.8" width="205.6" height="71" fill="#f3f9fe"/><text x="2799.3" y="1562.3">gini = 0.444<tspan x="2799.3" dy="20">samples = 3</tspan><tspan x="2799.3" dy="20">value = [0.333, 0.667]</tspan></text></g>
<g id="n77"><rect class="b" x="3180.9" y="1540.8" width="129.6" height="71" fill="#d8eaf9"/><text x="3245.7" y="1562.3">gini = 0.0<tspan x="3245.7" dy="20">samples = 4</tspan><tspan x="3245.7" dy="20">value = [0, 1]</tspan></text></g>
<g id="n78"><rect class="b" x="3334.5" y="1540.8" width="161.4" height="71" fill="#e6f2fc"/><text x="3415.2" y="1562.3">gini = 0.32<tspan x="3415.2" dy="20">samples = 4</tspan><tspan x="3415.2" dy="20">value = [0.2, 0.8]</tspan></text></g>

<g id="n79"><rect class="b" x="341.3" y="1669" width="205.6" height="92" fill="#fefaf8"/><text x="444.1" y="1691">Beta:M-1 &lt;= 1.425<tspan x="444.1" dy="20">gini = 0.391</tspan><tspan x="444.1" dy="20">samples = 13</tspan><tspan x="444.1" dy="20">value = [0.733, 0.267]</tspan></text></g>
<g id="n80"><rect class="b" x="571.5" y="1669" width="358.8" height="92" fill="#fefaf8"/><text x="750.9" y="1691">Revenue per Employee &lt;= 181063.289<tspan x="750.9" dy="20">gini = 0.061</tspan><tspan x="750.9" dy="20">samples = 20</tspan><tspan x="750.9" dy="20">value = [0.969, 0.031]</tspan></text></g>
<g id="n81"><rect class="b" x="954.9" y="1679.5" width="205.6" height="71" fill="#e8f4fc"/><text x="1057.7" y="1701">gini = 0.444<tspan x="1057.7" dy="20">samples = 3</tspan><tspan x="1057.7" dy="20">value = [0.333, 0.667]</tspan></text></g>
<g id="n82"><rect class="b" x="1185" y="1679.5" width="129.7" height="71" fill="#d0e6f8"/><text x="1249.85" y="1701">gini = 0.0<tspan x="1249.85" dy="20">samples = 3</tspan><tspan x="1249.85" dy="20">value = [0, 1]</tspan></text></g>
<g id="n83"><rect class="b" x="1339.2" y="1669" width="205.1" height="92" fill="#fcf1e9"/><text x="1441.75" y="1691">Beta:M-1 &lt;= 1.119<tspan x="1441.75" dy="20">gini = 0.245</tspan><tspan x="1441.75" dy="20">samples = 5</tspan><tspan x="1441.75" dy="20">value = [0.857, 0.143]</tspan></text></g>
<g id="n84"><rect class="b" x="1568.8" y="1679.5" width="129.7" height="71" fill="#f8dfcd"/><text x="1633.65" y="1701">gini = 0.0<tspan x="1633.65" dy="20">samples = 2</tspan><tspan x="1633.65" dy="20">value = [1, 0]</tspan></text></g>
<g id="n85"><rect class="b" x="2090.8" y="1679.5" width="129" height="71" fill="#e8f3fc"/><text x="2155.3" y="1701">gini = 0.0<tspan x="2155.3" dy="20">samples = 4</tspan><tspan x="2155.3" dy="20">value = [0, 1]</tspan></text></g>
<g id="n86"><rect class="b" x="2243.3" y="1679.5" width="161.4" height="71" fill="#e6f2fc"/><text x="2324" y="1701">gini = 0.32<tspan x="2324" dy="20">samples = 4</tspan><tspan x="2324" dy="20">value = [0.2, 0.8]</tspan></text></g>

<g id="n87"><rect class="b" x="183.8" y="1807.7" width="206.7" height="92" fill="#ffffff"/><text x="287.15" y="1829.7">Sharpe:M-1 &lt;= -0.292<tspan x="287.15" dy="20">gini = 0.5</tspan><tspan x="287.15" dy="20">samples = 8</tspan><tspan x="287.15" dy="20">value = [0.5, 0.5]</tspan></text></g>
<g id="n88"><rect class="b" x="414" y="1818.2" width="130.1" height="71" fill="#fbede3"/><text x="479.05" y="1839.7">gini = 0.0<tspan x="479.05" dy="20">samples = 5</tspan><tspan x="479.05" dy="20">value = [1, 0]</tspan></text></g>
<g id="n89"><rect class="b" x="635.8" y="1818.2" width="161.4" height="71" fill="#fcefe6"/><text x="716.5" y="1839.7">gini = 0.32<tspan x="716.5" dy="20">samples = 3</tspan><tspan x="716.5" dy="20">value = [0.8, 0.2]</tspan></text></g>
<g id="n90"><rect class="b" x="820.7" y="1818.2" width="138.1" height="71" fill="#fefaf8"/><text x="889.75" y="1839.7">gini = 0.0<tspan x="889.75" dy="20">samples = 17</tspan><tspan x="889.75" dy="20">value = [1, 0]</tspan></text></g>
<g id="n91"><rect class="b" x="1275.6" y="1818.2" width="161.4" height="71" fill="#ffffff"/><text x="1356.3" y="1839.7">gini = 0.5<tspan x="1356.3" dy="20">samples = 2</tspan><tspan x="1356.3" dy="20">value = [0.5, 0.5]</tspan></text></g>
<g id="n92"><rect class="b" x="1461" y="1818.2" width="129.6" height="71" fill="#f9e4d4"/><text x="1525.8" y="1839.7">gini = 0.0<tspan x="1525.8" dy="20">samples = 3</tspan><tspan x="1525.8" dy="20">value = [1, 0]</tspan></text></g>

<g id="n93"><rect class="b" x="10.6" y="1946.4" width="310.6" height="92" fill="#f3f8fd"/><text x="165.9" y="1968.4">Revenue T12M &lt;= 1798635072.0<tspan x="165.9" dy="20">gini = 0.444</tspan><tspan x="165.9" dy="20">samples = 6</tspan><tspan x="165.9" dy="20">value = [0.333, 0.667]</tspan></text></g>
<g id="n94"><rect class="b" x="345.3" y="1956.9" width="129" height="71" fill="#f1bf9b"/><text x="409.8" y="1978.4">gini = 0.0<tspan x="409.8" dy="20">samples = 2</tspan><tspan x="409.8" dy="20">value = [1, 0]</tspan></text></g>

<g id="n95"><rect class="b" x="5" y="2085.3" width="129.6" height="71" fill="#bddef6"/><text x="69.8" y="2106.8">gini = 0.0<tspan x="69.8" dy="20">samples = 3</tspan><tspan x="69.8" dy="20">value = [0, 1]</tspan></text></g>
<g id="n96"><rect class="b" x="159.2" y="2085.3" width="205" height="71" fill="#fcefe6"/><text x="261.7" y="2106.8">gini = 0.444<tspan x="261.7" dy="20">samples = 3</tspan><tspan x="261.7" dy="20">value = [0.667, 0.333]</tspan></text></g>
</svg>
